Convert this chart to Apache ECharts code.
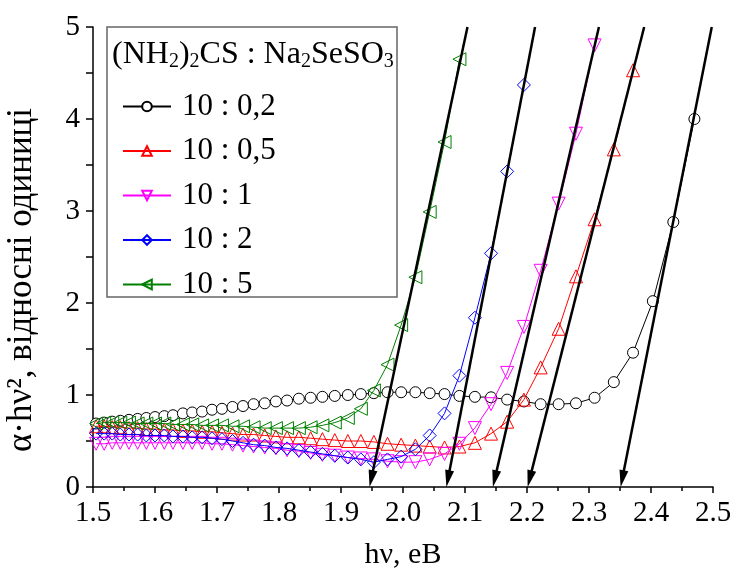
<!DOCTYPE html>
<html><head><meta charset="utf-8">
<script src="https://cdn.jsdelivr.net/npm/echarts@6/dist/echarts.min.js"></script>
<style>html,body{margin:0;padding:0;background:#fff}#c{width:733px;height:572px}</style>
</head><body><div id="c"></div>
<script>
const energy = [1.505,1.518,1.531,1.544,1.558,1.572,1.586,1.600,1.615,1.629,1.645,1.660,1.676,1.692,1.708,1.725,1.742,1.759,1.777,1.795,1.813,1.832,1.851,1.870,1.890,1.911,1.932,1.953,1.975,1.997,2.020,2.043,2.067,2.091,2.116,2.142,2.168,2.195,2.222,2.251,2.279,2.309,2.340,2.371,2.403,2.436,2.470];
const seriesNames = ['10 : 0,2','10 : 0,5','10 : 1','10 : 2','10 : 5'];
const y_02 = [0.69,0.70,0.71,0.72,0.73,0.74,0.75,0.76,0.77,0.78,0.80,0.81,0.82,0.84,0.85,0.87,0.88,0.90,0.91,0.93,0.94,0.96,0.97,0.98,0.99,1.00,1.01,1.02,1.03,1.03,1.03,1.02,1.01,0.99,0.98,0.975,0.95,0.93,0.90,0.90,0.91,0.97,1.14,1.46,2.02,2.88,4.00];
const y_05 = [0.66,0.66,0.65,0.65,0.64,0.64,0.63,0.63,0.62,0.62,0.61,0.61,0.60,0.60,0.59,0.58,0.57,0.57,0.56,0.55,0.54,0.54,0.53,0.52,0.51,0.50,0.50,0.49,0.47,0.46,0.45,0.44,0.43,0.44,0.48,0.58,0.71,0.95,1.30,1.72,2.29,2.91,3.67,4.53];
const y_1 = [0.47,0.47,0.48,0.48,0.48,0.48,0.48,0.48,0.48,0.48,0.48,0.48,0.48,0.47,0.47,0.46,0.45,0.44,0.43,0.42,0.40,0.39,0.37,0.35,0.34,0.32,0.31,0.30,0.28,0.27,0.27,0.30,0.36,0.47,0.64,0.90,1.24,1.74,2.35,3.08,3.84,4.80];
const y_2 = [0.58,0.58,0.58,0.57,0.57,0.57,0.56,0.56,0.56,0.55,0.55,0.54,0.54,0.53,0.52,0.50,0.48,0.46,0.45,0.43,0.42,0.40,0.38,0.36,0.34,0.32,0.30,0.27,0.30,0.33,0.41,0.56,0.80,1.21,1.84,2.54,3.43,4.37];
const y_5 = [0.69,0.70,0.70,0.70,0.70,0.69,0.69,0.69,0.69,0.68,0.68,0.68,0.67,0.67,0.67,0.66,0.66,0.65,0.64,0.64,0.64,0.64,0.65,0.67,0.70,0.75,0.85,1.05,1.33,1.76,2.28,2.99,3.75,4.65];
// tangent lines: x where they cross the top (y = 5) and the band gap on the x axis (y = 0)
const tangentTopX = [2.104,2.213,2.316,2.389,2.498];
const tangentTopY = 5;
const bandGap = [1.946,2.070,2.145,2.201,2.351];
const xTickLabels = ['1.5','1.6','1.7','1.8','1.9','2.0','2.1','2.2','2.3','2.4','2.5'];

const FONT = '"Liberation Serif","Times New Roman",serif';
const chart = echarts.init(document.getElementById('c'), null, {renderer:'canvas'});

function mk(name, ys, color, symbol, rot, size, fill, z){
  return {
    name, type:'line', data: ys.map((v,i)=>[energy[i], v]),
    symbol, symbolRotate: rot, symbolSize: size, showSymbol:true, showAllSymbol:true,
    lineStyle:{color, width:1}, itemStyle:{color:fill, borderColor:color, borderWidth:1},
    emphasis:{disabled:true}, animation:false, z
  };
}

const option = {
  animation:false,
  grid:{left:93, right:20, top:27, bottom:85, containLabel:false, outerBoundsMode:'none'},
  xAxis:{
    type:'value', min:1.5, max:2.5, interval:0.1,
    name:'hν, eB', nameLocation:'middle', nameGap:53,
    nameTextStyle:{fontFamily:FONT, fontSize:30, color:'#000'},
    axisLine:{lineStyle:{color:'#000', width:1.5}},
    axisTick:{length:6, lineStyle:{color:'#000', width:1.5}},
    minorTick:{show:true, splitNumber:2, length:4, lineStyle:{color:'#000', width:1.5}},
    axisLabel:{fontFamily:FONT, fontSize:29, color:'#000', margin:12,
      formatter:(v)=>xTickLabels[Math.round((v-1.5)*10)]},
    splitLine:{show:false}
  },
  yAxis:{
    type:'value', min:0, max:5, interval:1,
    name:'α·hν², відносні одиниці', nameLocation:'middle', nameGap:54,
    nameTextStyle:{fontFamily:FONT, fontSize:35, color:'#000', padding:[0,46,0,0]},
    axisLine:{lineStyle:{color:'#000', width:1.5}},
    axisTick:{length:7, lineStyle:{color:'#000', width:1.5}},
    minorTick:{show:true, splitNumber:2, length:7, lineStyle:{color:'#000', width:1.5}},
    axisLabel:{fontFamily:FONT, fontSize:29, color:'#000', margin:13},
    splitLine:{show:false}
  },
  legend:{
    orient:'vertical', left:122, top:91, padding:0,
    itemWidth:48, itemHeight:12, itemGap:13.5,
    textStyle:{fontFamily:FONT, fontSize:31, color:'#000', lineHeight:30, padding:[0,0,0,6]},
    data: seriesNames
  },
  graphic:[
    {type:'rect', shape:{x:107, y:27, width:290, height:270}, style:{fill:'#fff', stroke:'#666', lineWidth:1.5}, z:0, zlevel:0},
    {type:'text', x:112, y:55, style:{
      text:'{n|(NH}{s|2}{n|)}{s|2}{n|CS : Na}{s|2}{n|SeSO}{s|3}',
      verticalAlign:'middle',
      rich:{
        n:{fontFamily:FONT, fontSize:32, lineHeight:34, verticalAlign:'middle', fill:'#000'},
        s:{fontFamily:FONT, fontSize:20, lineHeight:8, verticalAlign:'bottom', fill:'#000'}
      }}, z:1}
  ],
  series:[
    mk(seriesNames[0], y_02, '#000000', 'circle', 0, 11, '#ffffff', 2),
    mk(seriesNames[1], y_05, '#ff0000', 'triangle', 0, 13, 'rgba(0,0,0,0)', 3),
    mk(seriesNames[2], y_1, '#ff00ff', 'triangle', 180, 13, 'rgba(0,0,0,0)', 4),
    mk(seriesNames[3], y_2, '#0000ff', 'diamond', 0, 13, 'rgba(0,0,0,0)', 5),
    mk(seriesNames[4], y_5, '#008000', 'triangle', 90, 13, 'rgba(0,0,0,0)', 6),
    {
      type:'custom', silent:true, clip:false, z:10,
      data: bandGap.map((b,i)=>[tangentTopX[i], tangentTopY, b, 0]),
      encode:{x:[0,2], y:[1,3]},
      renderItem:function(params, api){
        const p0 = api.coord([api.value(0), api.value(1)]);
        const p1 = api.coord([api.value(2), api.value(3)]);
        const dx = p1[0]-p0[0], dy = p1[1]-p0[1];
        const L = Math.hypot(dx, dy), ux = dx/L, uy = dy/L;
        const hl = 17, hw = 4.5;
        const bx = p1[0]-ux*hl, by = p1[1]-uy*hl;
        return {type:'group', children:[
          {type:'line', shape:{x1:p0[0], y1:p0[1], x2:bx+ux*3, y2:by+uy*3}, style:{stroke:'#000', lineWidth:2.5}},
          {type:'polygon', shape:{points:[[p1[0],p1[1]],[bx-uy*hw, by+ux*hw],[bx+uy*hw, by-ux*hw]]}, style:{fill:'#000'}}
        ]};
      }
    }
  ]
};
chart.setOption(option);
</script>
</body></html>
